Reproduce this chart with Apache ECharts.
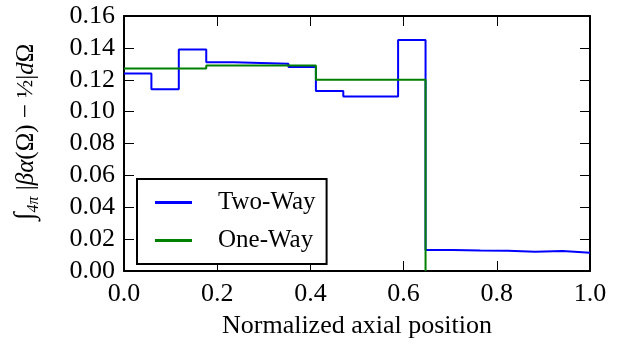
<!DOCTYPE html>
<html>
<head>
<meta charset="utf-8">
<script src="https://cdn.jsdelivr.net/npm/echarts@6/dist/echarts.min.js"></script>
<style>
  html, body { margin: 0; padding: 0; background: #fff; }
  #chart { width: 620px; height: 349px; }
</style>
</head>
<body>
<div id="chart"></div>
<script>
// bin edges (left edge of each step), normalized axial position
var twoWayEdges = [0, 0.0588, 0.1176, 0.1765, 0.2353, 0.2941, 0.3529, 0.4118, 0.4706,
  0.5294, 0.5882, 0.6471, 0.7059, 0.7647, 0.8235, 0.8824, 0.9412, 1.0]
var twoWayValues = [0.124, 0.114, 0.139, 0.131, 0.1305, 0.130, 0.128, 0.113, 0.1095,
  0.1095, 0.145, 0.0131, 0.0128, 0.0127, 0.0121, 0.0125, 0.0114]

var oneWayEdges = [0, 0.1765, 0.4118, 0.6471]
var oneWayValues = [0.127, 0.129, 0.120, 0]

var xTicks = [0, 0.2, 0.4, 0.6, 0.8, 1.0]
var yTicks = [0, 0.02, 0.04, 0.06, 0.08, 0.10, 0.12, 0.14, 0.16]

function stepData(edges, values) {
  var out = []
  for (var i = 0; i < edges.length; i++) {
    // last edge closes the final bin at the same height
    var v = i < values.length ? values[i] : values[values.length - 1]
    out.push([edges[i], v])
  }
  return out
}

var serif = '"Liberation Serif", "DejaVu Serif", serif'

var chart = echarts.init(document.getElementById('chart'))

function frameAxis(pos, isX, showLabel) {
  return {
    type: 'value',
    position: pos,
    min: isX ? xTicks[0] : yTicks[0],
    max: isX ? xTicks[xTicks.length - 1] : yTicks[yTicks.length - 1],
    interval: isX ? 0.2 : 0.02,
    axisLine: { show: true, onZero: false, lineStyle: { color: '#000', width: 2 } },
    axisTick: { show: true, inside: true, length: 10, lineStyle: { color: '#000', width: 1 } },
    splitLine: { show: false },
    axisLabel: {
      show: showLabel,
      margin: isX ? 10 : 9,
      color: '#000',
      fontFamily: serif,
      fontSize: 26,
      formatter: function (v) { return isX ? v.toFixed(1) : v.toFixed(2) }
    }
  }
}

var xBottom = frameAxis('bottom', true, true)
xBottom.name = 'Normalized axial position'
xBottom.nameLocation = 'middle'
xBottom.nameGap = 42
xBottom.nameTextStyle = { color: '#000', fontFamily: serif, fontSize: 26 }

chart.setOption({
  backgroundColor: '#fff',
  animation: false,
  grid: {
    left: 124,
    right: 30,
    top: 16,
    bottom: 78
  },
  xAxis: [xBottom, frameAxis('top', true, false)],
  yAxis: [frameAxis('left', false, true), frameAxis('right', false, false)],
  legend: {
    orient: 'vertical',
    left: 137,
    top: 179,
    backgroundColor: '#fff',
    borderColor: '#000',
    borderWidth: 2,
    borderRadius: 0,
    padding: [11, 11, 11, 18],
    itemGap: 13,
    itemWidth: 37,
    itemHeight: 3,
    icon: 'rect',
    textStyle: {
      color: '#000',
      fontFamily: serif,
      fontSize: 25,
      padding: [0, 0, 0, 21]
    },
    data: ['Two-Way', 'One-Way']
  },
  graphic: [{
    type: 'text',
    x: 26,
    y: 132,
    rotation: Math.PI / 2,
    style: {
      text: '{int|∫}{sub|4π} |{it|βα}(Ω) − {frac|½}|{it|d}Ω',
      align: 'center',
      verticalAlign: 'middle',
      fill: '#000',
      font: '25px ' + serif,
      rich: {
        int: { fontSize: 28, fontFamily: serif },
        sub: { fontSize: 16, fontStyle: 'italic', fontFamily: serif, verticalAlign: 'bottom', lineHeight: 32 },
        it: { fontSize: 25, fontStyle: 'italic', fontFamily: serif },
        frac: { fontSize: 24, fontFamily: serif }
      }
    }
  }],
  series: [{
    name: 'Two-Way',
    type: 'line',
    step: 'end',
    showSymbol: false,
    symbol: 'none',
    color: '#0000ff',
    lineStyle: { color: '#0000ff', width: 2 },
    data: stepData(twoWayEdges, twoWayValues)
  }, {
    name: 'One-Way',
    type: 'line',
    step: 'end',
    showSymbol: false,
    symbol: 'none',
    color: '#008000',
    lineStyle: { color: '#008000', width: 2 },
    data: stepData(oneWayEdges, oneWayValues)
  }]
})
</script>
</body>
</html>
